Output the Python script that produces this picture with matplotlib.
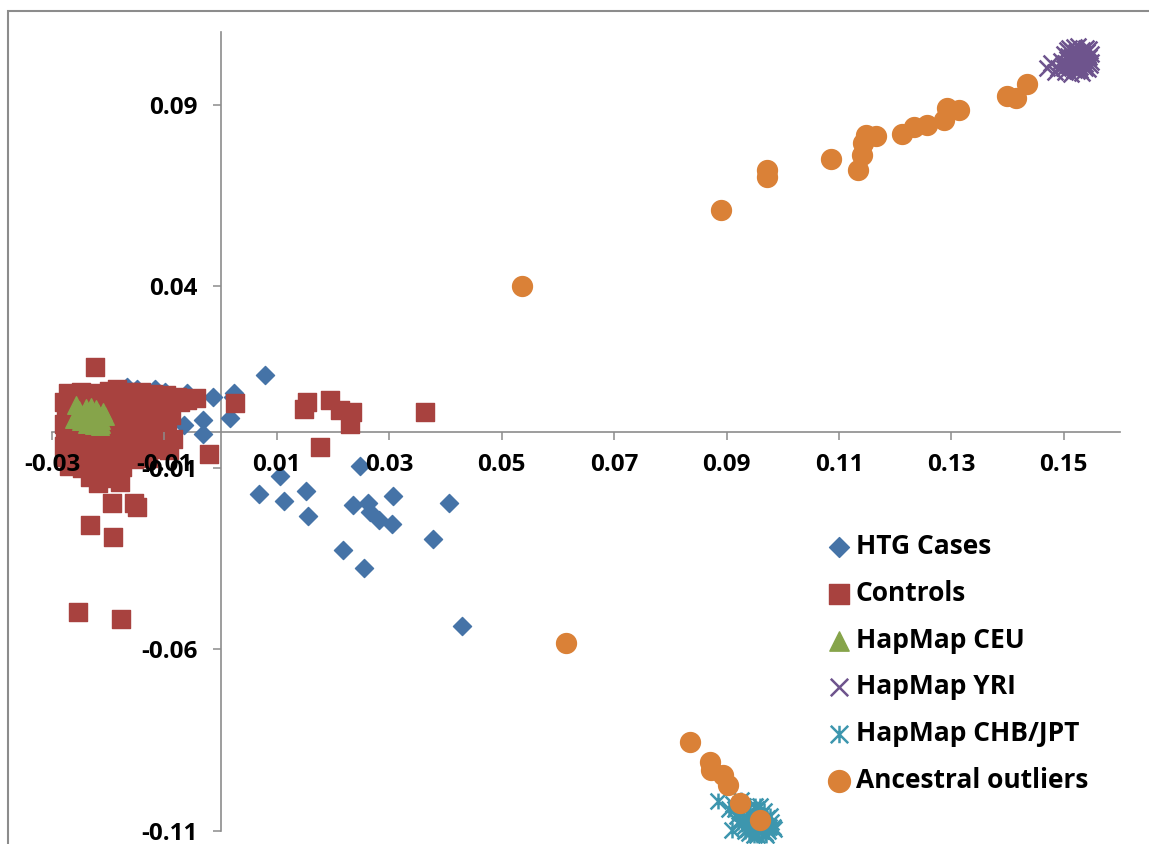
import matplotlib
matplotlib.use("Agg")
import matplotlib.pyplot as plt
from matplotlib.path import Path
from matplotlib.patches import Rectangle

plt.rcParams["font.family"] = ["Open Sans", "DejaVu Sans"]
plt.rcParams["font.weight"] = "bold"

# Axis ticks
x_ticks = [-0.03, -0.01, 0.01, 0.03, 0.05, 0.07, 0.09, 0.11, 0.13, 0.15]
x_labels = ["-0.03", "-0.01", "0.01", "0.03", "0.05", "0.07", "0.09", "0.11", "0.13", "0.15"]
y_ticks = [-0.11, -0.06, -0.01, 0.04, 0.09]
y_labels = ["-0.11", "-0.06", "-0.01", "0.04", "0.09"]

# HTG Cases
htg_x = [0.0079, -0.0013, 0.0022, 0.0016, -0.0031, -0.0032, 0.0248, 0.0106, 0.0069, 0.0113,
         0.0151, 0.0156, 0.0236, 0.0263, 0.0266, 0.0281, 0.0304, 0.0307, 0.0407, 0.0377,
         0.0217, 0.0255, 0.0430, -0.0066, -0.0099, -0.0117, -0.0149, -0.0167, -0.0060, 0.0023,
         -0.0105]
htg_y = [0.0155, 0.0095, 0.0095, 0.0037, 0.0031, -0.0006, -0.0096, -0.0123, -0.0171, -0.0191,
         -0.0163, -0.0232, -0.0203, -0.0198, -0.0221, -0.0244, -0.0256, -0.0178, -0.0198, -0.0297,
         -0.0327, -0.0375, -0.0535, 0.0017, 0.0109, 0.0116, 0.0118, 0.0123, 0.0105, 0.0105,
         -0.0033]

# Controls
ctrl_x = [-0.0272, -0.0248, -0.0222, -0.0198, -0.0185, -0.0165, -0.0142, -0.0120, -0.0098, -0.0078,
          -0.0278, -0.0255, -0.0232, -0.0210, -0.0188, -0.0163, -0.0140, -0.0118, -0.0095, -0.0072, -0.0060,
          -0.0275, -0.0250, -0.0226, -0.0203, -0.0180, -0.0157, -0.0133, -0.0110, -0.0088,
          -0.0279, -0.0256, -0.0231, -0.0208, -0.0185, -0.0161, -0.0138, -0.0115, -0.0095,
          -0.0276, -0.0252, -0.0228, -0.0204, -0.0180, -0.0156, -0.0132, -0.0108, -0.0085,
          -0.0278, -0.0254, -0.0230, -0.0207, -0.0183, -0.0160, -0.0137, -0.0113, -0.0092,
          -0.0276, -0.0251, -0.0227, -0.0203, -0.0178, -0.0155, -0.0130,
          -0.0270, -0.0246, -0.0222, -0.0198, -0.0175,
          -0.0233, -0.0210, -0.0187,
          -0.0223, -0.0218, -0.0179, -0.0193, -0.0154, -0.0149, -0.0232, -0.0192, -0.0254, -0.0178,
          -0.0020, 0.0026, -0.0043, 0.0153, 0.0148, 0.0195, 0.0212, 0.0233, 0.0230, 0.0176, 0.0364]
ctrl_y = [0.0105, 0.0108, 0.0106, 0.0112, 0.0118, 0.0110, 0.0108, 0.0104, 0.0100, 0.0095,
          0.0082, 0.0085, 0.0080, 0.0087, 0.0083, 0.0086, 0.0081, 0.0084, 0.0078, 0.0080, 0.0088,
          0.0052, 0.0048, 0.0055, 0.0050, 0.0056, 0.0051, 0.0054, 0.0049, 0.0046,
          0.0020, 0.0024, 0.0018, 0.0022, 0.0017, 0.0023, 0.0019, 0.0015, 0.0012,
          -0.0010, -0.0013, -0.0008, -0.0012, -0.0009, -0.0014, -0.0010, -0.0016, -0.0020,
          -0.0040, -0.0044, -0.0038, -0.0043, -0.0040, -0.0045, -0.0041, -0.0047, -0.0050,
          -0.0070, -0.0074, -0.0068, -0.0073, -0.0070, -0.0076, -0.0072,
          -0.0096, -0.0100, -0.0094, -0.0102, -0.0098,
          -0.0125, -0.0128, -0.0122,
          0.0178, -0.0143, -0.0139, -0.0197, -0.0198, -0.0208, -0.0258, -0.0290, -0.0497, -0.0517,
          -0.0061, 0.0079, 0.0091, 0.0081, 0.0061, 0.0086, 0.0059, 0.0054, 0.0022, -0.0042, 0.0054]

# HapMap CEU
ceu_x = [-0.0258, -0.0252, -0.0245, -0.0240, -0.0233, -0.0228, -0.0222, -0.0218, -0.0212, -0.0205,
         -0.0212, -0.0248, -0.0238, -0.0226, -0.0215, -0.0260, -0.0230, -0.0210]
ceu_y = [0.0072, 0.0060, 0.0048, 0.0066, 0.0055, 0.0040, 0.0062, 0.0050, 0.0032, 0.0042,
         0.0020, 0.0030, 0.0022, 0.0018, 0.0015, 0.0035, 0.0068, 0.0055]

# HapMap YRI
yri_x = [0.1490, 0.1495, 0.1500, 0.1503, 0.1508, 0.1510, 0.1513, 0.1518, 0.1520, 0.1522,
         0.1525, 0.1528, 0.1530, 0.1533, 0.1535, 0.1538, 0.1540, 0.1543, 0.1545, 0.1548,
         0.1512, 0.1527, 0.1505, 0.1542, 0.1498, 0.1470, 0.1478, 0.1485,
         0.1500, 0.1505, 0.1515, 0.1517, 0.1523, 0.1532, 0.1537, 0.1541, 0.1546, 0.1549,
         0.1514, 0.1526, 0.1531, 0.1519, 0.1508, 0.1536, 0.1544, 0.1502, 0.1529, 0.1521]
yri_y = [0.1000, 0.1020, 0.1040, 0.0990, 0.1010, 0.1055, 0.1030, 0.0995, 0.1015, 0.1045,
         0.1062, 0.1005, 0.1025, 0.0988, 0.1040, 0.1012, 0.1055, 0.0998, 0.1030, 0.1018,
         0.0985, 0.1035, 0.1050, 0.1045, 0.1008, 0.1000, 0.1015, 0.0990,
         0.1000, 0.1025, 0.1048, 0.1020, 0.0992, 0.1050, 0.1000, 0.1028, 0.1008, 0.1040,
         0.1003, 0.1012, 0.1038, 0.1058, 0.1035, 0.1022, 0.1052, 0.1015, 0.0996, 0.1030]

# HapMap CHB/JPT
chb_x = [0.0905, 0.0912, 0.0918, 0.0922, 0.0928, 0.0930, 0.0935, 0.0938, 0.0942, 0.0945,
         0.0948, 0.0952, 0.0955, 0.0958, 0.0962, 0.0965, 0.0968, 0.0972, 0.0975, 0.0980,
         0.0985, 0.0932, 0.0925, 0.0960, 0.0885, 0.0910,
         0.0915, 0.0920, 0.0927, 0.0933, 0.0937, 0.0940, 0.0944, 0.0947, 0.0950, 0.0953,
         0.0957, 0.0961, 0.0964, 0.0967, 0.0970, 0.0974, 0.0978, 0.0982, 0.0950, 0.0940,
         0.0955, 0.0970]
chb_y = [-0.1040, -0.1025, -0.1060, -0.1045, -0.1080, -0.1030, -0.1065, -0.1095, -0.1050, -0.1080,
         -0.1110, -0.1040, -0.1068, -0.1095, -0.1055, -0.1085, -0.1105, -0.1065, -0.1090, -0.1075,
         -0.1095, -0.1100, -0.1015, -0.1030, -0.1018, -0.1097,
         -0.1040, -0.1075, -0.1050, -0.1085, -0.1040, -0.1070, -0.1100, -0.1060, -0.1090, -0.1055,
         -0.1080, -0.1100, -0.1070, -0.1045, -0.1085, -0.1100, -0.1060, -0.1088, -0.1030, -0.1105,
         -0.1112, -0.1112]

# Ancestral outliers
anc_x = [0.0890, 0.0972, 0.0972, 0.1086, 0.1134, 0.1141, 0.1143, 0.1148, 0.1166, 0.1212,
         0.1233, 0.1257, 0.1287, 0.1292, 0.1313, 0.1399, 0.1415, 0.1435, 0.0536, 0.0615,
         0.0835, 0.0871, 0.0872, 0.0894, 0.0903, 0.0924, 0.0960]
anc_y = [0.0609, 0.0719, 0.0701, 0.0750, 0.0719, 0.0761, 0.0793, 0.0816, 0.0813, 0.0820,
         0.0838, 0.0843, 0.0859, 0.0891, 0.0886, 0.0923, 0.0917, 0.0956, 0.0400, -0.0582,
         -0.0854, -0.0909, -0.0932, -0.0946, -0.0972, -0.1024, -0.1070]

# Excel style star marker: X plus a vertical bar
star = Path([(-0.5, -0.5), (0.5, 0.5), (-0.5, 0.5), (0.5, -0.5), (0, -0.5), (0, 0.5)],
            [Path.MOVETO, Path.LINETO, Path.MOVETO, Path.LINETO, Path.MOVETO, Path.LINETO])

fig = plt.figure(figsize=(11.49, 8.44), dpi=100)
ax = fig.add_axes([52 / 1149, 1 - 831 / 844, 1068 / 1149, 799 / 844])

s1 = ax.scatter(htg_x, htg_y, marker="D", s=85, color="#4573A7", label="HTG Cases", clip_on=False)
s2 = ax.scatter(ctrl_x, ctrl_y, marker="s", s=185, color="#A8423F", label="Controls", clip_on=False)
s3 = ax.scatter(ceu_x, ceu_y, marker="^", s=160, color="#86A44A", label="HapMap CEU", clip_on=False)
s4 = ax.scatter(yri_x, yri_y, marker="x", s=130, color="#6E548D", linewidths=1.8,
                label="HapMap YRI", clip_on=False)
s5 = ax.scatter(chb_x, chb_y, marker=star, s=130, color="#3D96AE", linewidths=1.8,
                label="HapMap CHB/JPT", clip_on=False)
s6 = ax.scatter(anc_x, anc_y, marker="o", s=205, color="#DA8137", label="Ancestral outliers",
                clip_on=False)

ax.set_xlim(-0.03, 0.16)
ax.set_ylim(-0.11, 0.11)
ax.set_xticks(x_ticks)
ax.set_xticklabels(x_labels)
ax.set_yticks(y_ticks)
ax.set_yticklabels(y_labels)

for side in ["top", "right"]:
    ax.spines[side].set_visible(False)
for side in ["left", "bottom"]:
    ax.spines[side].set_position("zero")
    ax.spines[side].set_color("#8C8C8C")
    ax.spines[side].set_linewidth(1.2)
    ax.spines[side].set_zorder(0.5)
ax.tick_params(axis="both", direction="out", length=5.5, width=1.1, color="#8C8C8C",
               labelsize=17.5, labelcolor="black")
ax.tick_params(axis="x", pad=10)
ax.tick_params(axis="y", pad=11)
ax.patch.set_alpha(0)

# chart area border
fig.patches.append(Rectangle((8 / 1149, -0.1), 1.2, 1 - 11 / 844 + 0.1, transform=fig.transFigure,
                             fill=False, edgecolor="#8C8C8C", linewidth=1.5))

fig.legend(handles=[s1, s2, s3, s4, s5, s6], loc="upper left",
           bbox_to_anchor=(828 / 1149, 1 - 533 / 844), frameon=False,
           prop=dict(family="Open Sans", weight="bold", size=19),
           handlelength=0.8, handletextpad=0.25, labelspacing=0.75,
           borderpad=0, borderaxespad=0, scatterpoints=1, markerscale=1.1)

fig.savefig("out.png", dpi=100)
